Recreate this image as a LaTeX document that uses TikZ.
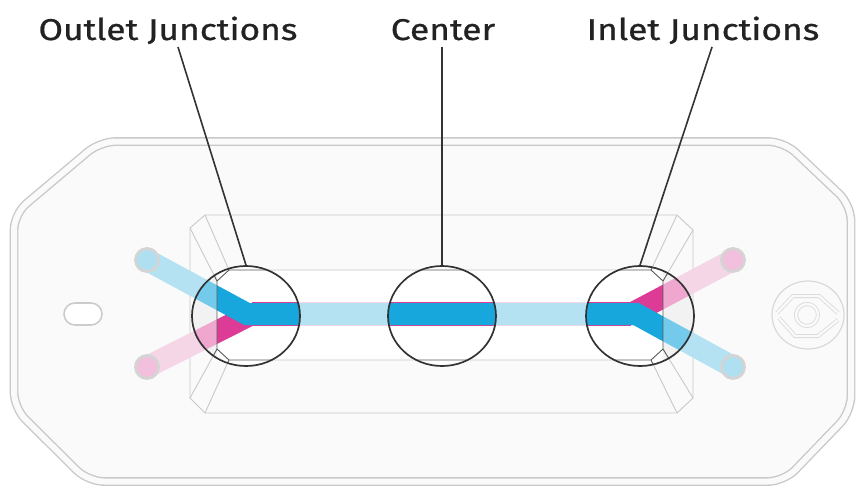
\documentclass[tikz,border=0pt]{standalone}
\usepackage{fontspec}
\setmainfont{Fira Sans}
\newfontfamily\calloutfont[FakeStretch=1.18,FakeBold=0.8]{Fira Sans}
\usetikzlibrary{shapes.geometric}

\definecolor{chanblue}{HTML}{17A7DD}
\definecolor{chanpink}{HTML}{DC3C95}
\definecolor{lightblue}{HTML}{B4E2F3}
\definecolor{lightpink}{HTML}{F4D6E6}
\definecolor{portblue}{HTML}{AEE0F2}
\definecolor{portpink}{HTML}{F2BFDC}
\definecolor{platefill}{HTML}{FAFAFA}
\definecolor{plateline}{HTML}{C9C9C9}
\definecolor{inkdark}{HTML}{222222}

% top face of the raised chip
\newcommand{\facepath}{(229,270) -- (651,270) -- (663,281) -- (663,349) -- (651,360) -- (229,360) -- (217,349) -- (217,281) -- cycle}
% sloped walls between chip outline and top face
\newcommand{\bevels}[1]{%
  \foreach \a/\b in {{205,215}/{229,270},{190,228}/{217,281},{190,398}/{217,349},{205,413}/{229,360},
                     {677,215}/{651,270},{693,230}/{663,281},{693,398}/{663,349},{677,413}/{651,360}}
    \draw[#1] (\a) -- (\b);}
% pink and blue channels, pink underneath
\newcommand{\channels}[2]{%
  \draw[#1,line width=22pt] (pinkin) -- (pbendL) -- (pbendR) -- (pinkout);
  \draw[#1,line width=23.6pt] (pbendL) -- (pbendR);
  \draw[#2,line width=22pt] (bluein) -- (bbendL) -- (bbendR) -- (blueout);}

\begin{document}
\begin{tikzpicture}[x=1pt,y=-1pt,
  caption/.style={text=inkdark,font=\calloutfont\fontsize{30}{36}\selectfont,inner sep=0pt,anchor=base},
  junction/.style={ellipse,draw=black!80,line width=1.7pt,minimum width=108pt,minimum height=100pt,inner sep=0pt},
  port/.style={circle,draw=black!17,line width=2.8pt,minimum size=23pt,inner sep=0pt},
  leader/.style={draw=black!80,line width=1.6pt},
  outline/.style={draw=plateline,line width=0.9pt},
  zoomline/.style={draw=black!65,line width=0.9pt},
  logo/.style={draw=black!15,line width=0.8pt,double=platefill,double distance=2.4pt}]
\useasboundingbox (0,0) rectangle (859,487);

% base plate
\path[fill=platefill,draw=plateline,line width=1.4pt,double=platefill,double distance=6pt,rounded corners=16pt]
  (100,141.5) -- (784,141.5) -- (851,205) -- (851,412) -- (784,481.5) -- (88,481.5) -- (14,408) -- (14,214) -- cycle;
\draw[draw=black!20,line width=1.6pt,fill=white,rounded corners=11pt] (64,303) rectangle (102,325);

\draw[draw=black!15,line width=1.2pt] (808,315) ellipse [x radius=36pt, y radius=34pt];
\draw[logo] (777,313) -- (793,296) -- (819,296) -- (838,313);
\draw[logo] (779,318) -- (795,336) -- (818,336) -- (838,320);
\draw[logo] (807,315) circle [radius=11pt];

% chip
\draw[outline,fill=platefill] (205,215) -- (677,215) -- (693,230) -- (693,398) -- (677,413) -- (205,413) -- (190,398) -- (190,228) -- cycle;
\draw[outline,fill=white] \facepath;
\bevels{outline}

\coordinate (bluein) at (147,260);
\coordinate (pinkin) at (147,367);
\coordinate (pinkout) at (733,260);
\coordinate (blueout) at (733,367);
\coordinate (bbendL) at (247,314);
\coordinate (pbendL) at (252,314);
\coordinate (pbendR) at (631,314);
\coordinate (bbendR) at (636,314);
\coordinate (cout) at (246,316);
\coordinate (ccen) at (442,316);
\coordinate (cin) at (640,316);

\channels{lightpink}{lightblue}

% magnified views
\begin{scope}
  \clip (cout) ellipse [x radius=54pt, y radius=50pt];
  \fill[white] (180,260) rectangle (310,370);
  \channels{chanpink}{chanblue}
  \begin{scope}
    \clip (180,260) rectangle (217,370);
    \fill[black!5] (180,260) rectangle (217,370);
    \channels{chanpink!45!white}{chanblue!60!white}
  \end{scope}
  \draw[zoomline] \facepath;
  \bevels{zoomline}
\end{scope}
\begin{scope}
  \clip (ccen) ellipse [x radius=54pt, y radius=50pt];
  \fill[white] (380,260) rectangle (500,370);
  \channels{chanpink}{chanblue}
  \draw[zoomline] \facepath;
\end{scope}
\begin{scope}
  \clip (cin) ellipse [x radius=54pt, y radius=50pt];
  \fill[white] (580,260) rectangle (700,370);
  \channels{chanpink}{chanblue}
  \begin{scope}
    \clip (663,260) rectangle (700,370);
    \fill[black!5] (663,260) rectangle (700,370);
    \channels{chanpink!45!white}{chanblue!60!white}
  \end{scope}
  \draw[zoomline] \facepath;
  \bevels{zoomline}
\end{scope}

\path
  (bluein) node[port,fill=portblue] (bport1) {}
  (pinkin) node[port,fill=portpink] (pport1) {}
  (pinkout) node[port,fill=portpink] (pport2) {}
  (blueout) node[port,fill=portblue] (bport2) {}
  (cout) node[junction] (jout) {}
  (ccen) node[junction] (jcen) {}
  (cin) node[junction] (jin) {}
  (168,40) node[caption] (outletlbl) {Outlet Junctions}
  (443,40) node[caption] (centerlbl) {Center}
  (703,40) node[caption] (inletlbl) {Inlet Junctions};

\draw[leader] ([xshift=10pt,yshift=-7pt]outletlbl.base) -- (jout.north);
\draw[leader] ([xshift=-1pt,yshift=-7pt]centerlbl.base) -- (jcen.north);
\draw[leader] ([xshift=9pt,yshift=-7pt]inletlbl.base) -- (jin.north);
\end{tikzpicture}
\end{document}
